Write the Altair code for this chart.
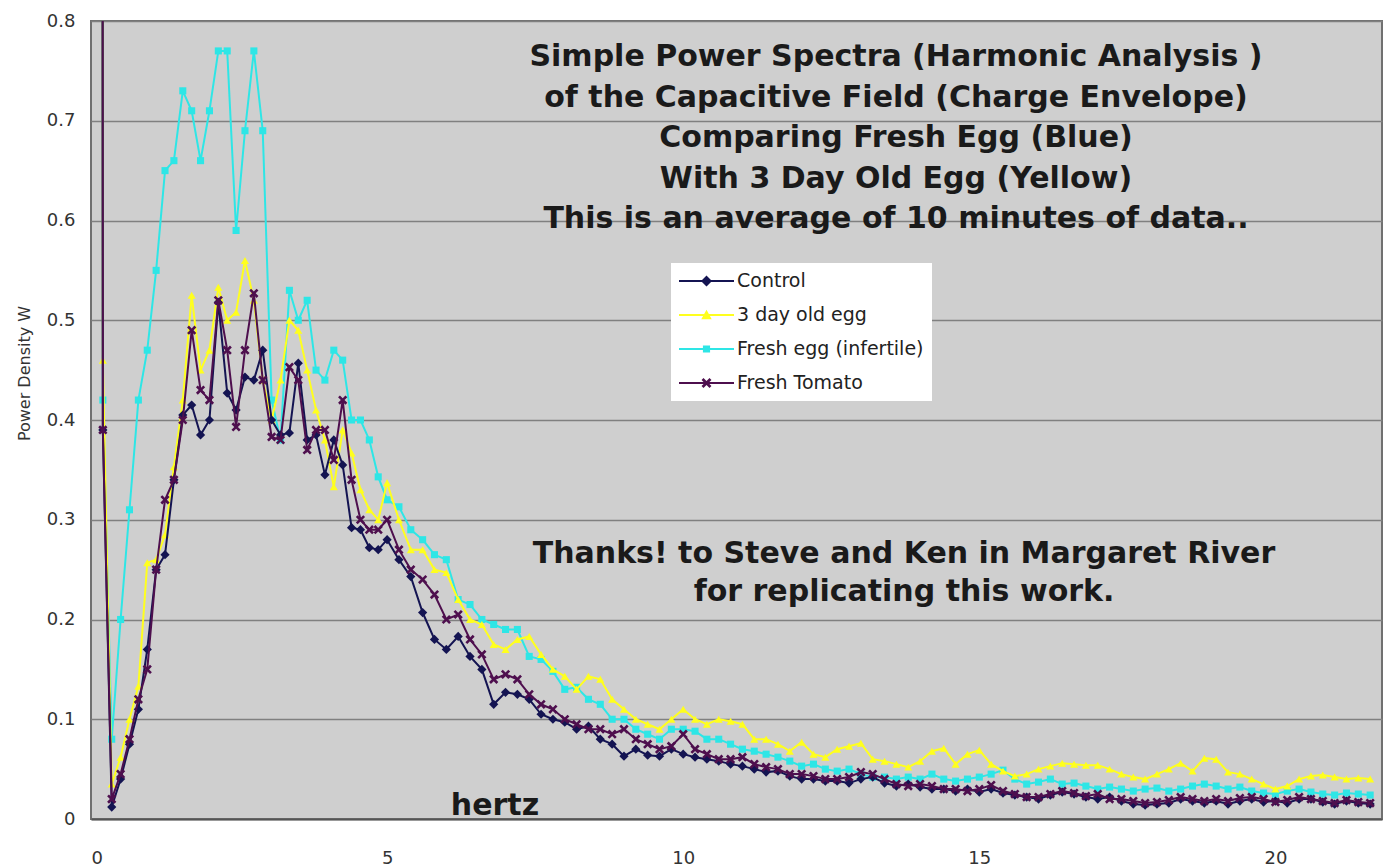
import altair as alt
import pandas as pd

# ---------------- data ----------------
FREQ_A = [0.1, 0.2, 0.35, 0.5, 0.65, 0.8, 0.95, 1.1, 1.25, 1.4, 1.55, 1.7, 1.85, 2.0,
          2.15, 2.3, 2.45, 2.6, 2.75, 2.9, 3.05, 3.2, 3.35, 3.5, 3.65, 3.8, 3.95, 4.1,
          4.25, 4.4, 4.55, 4.7, 4.85, 5.0]
FREQ_B = [5.2, 5.4, 5.6, 5.8, 6.0, 6.2, 6.4, 6.6, 6.8, 7.0, 7.2, 7.4, 7.6, 7.8, 8.0,
          8.2, 8.4, 8.6, 8.8, 9.0, 9.2, 9.4, 9.6, 9.8, 10.0, 10.2, 10.4, 10.6, 10.8,
          11.0, 11.2, 11.4, 11.6, 11.8, 12.0, 12.2, 12.4, 12.6, 12.8, 13.0, 13.2, 13.4,
          13.6, 13.8, 14.0, 14.2, 14.4, 14.6, 14.8, 15.0, 15.2, 15.4, 15.6, 15.8, 16.0,
          16.2, 16.4, 16.6, 16.8, 17.0, 17.2, 17.4, 17.6, 17.8, 18.0, 18.2, 18.4, 18.6,
          18.8, 19.0, 19.2, 19.4, 19.6, 19.8, 20.0, 20.2, 20.4, 20.6, 20.8, 21.0, 21.2,
          21.4, 21.6]

CONTROL_A = [12.0, 0.39, 0.012, 0.04, 0.075, 0.11, 0.17, 0.25, 0.265, 0.34, 0.405, 0.415,
             0.385, 0.40, 0.518, 0.427, 0.41, 0.443, 0.44, 0.47, 0.40, 0.385, 0.387, 0.457,
             0.38, 0.385, 0.345, 0.38, 0.355, 0.292, 0.29, 0.272, 0.27, 0.28]
CONTROL_B = [0.26, 0.243, 0.207, 0.18, 0.17, 0.183, 0.163, 0.15, 0.115, 0.127,
             0.125, 0.12, 0.105, 0.10, 0.097, 0.09, 0.093, 0.08, 0.075, 0.063,
             0.07, 0.064, 0.063, 0.07, 0.065, 0.062, 0.06, 0.058, 0.055, 0.053,
             0.05, 0.047, 0.048, 0.043, 0.04, 0.04, 0.038, 0.038, 0.036, 0.04,
             0.042, 0.036, 0.033, 0.035, 0.032, 0.03, 0.03, 0.028, 0.03, 0.027,
             0.03, 0.026, 0.024, 0.022, 0.02, 0.024, 0.027, 0.025, 0.022, 0.02,
             0.022, 0.018, 0.015, 0.014, 0.015, 0.016, 0.02, 0.018, 0.016, 0.018,
             0.015, 0.018, 0.02, 0.017, 0.018, 0.016, 0.02, 0.02, 0.017, 0.015,
             0.018, 0.016, 0.015]

OLD_EGG_A = [13.0, 0.46, 0.035, 0.062, 0.10, 0.133, 0.257, 0.26, 0.285, 0.353, 0.42, 0.525,
             0.45, 0.47, 0.533, 0.50, 0.508, 0.56, 0.52, 0.44, 0.40, 0.44, 0.50, 0.49,
             0.45, 0.41, 0.38, 0.333, 0.39, 0.367, 0.33, 0.31, 0.30, 0.337]
OLD_EGG_B = [0.30, 0.27, 0.27, 0.25, 0.247, 0.22, 0.20, 0.195, 0.175, 0.17,
             0.18, 0.183, 0.165, 0.15, 0.143, 0.13, 0.143, 0.14, 0.12, 0.11,
             0.10, 0.095, 0.09, 0.10, 0.11, 0.10, 0.095, 0.10, 0.098, 0.095,
             0.08, 0.08, 0.075, 0.068, 0.077, 0.065, 0.062, 0.07, 0.073, 0.076,
             0.06, 0.058, 0.055, 0.052, 0.058, 0.068, 0.071, 0.055, 0.065, 0.069,
             0.055, 0.048, 0.043, 0.045, 0.05, 0.053, 0.056, 0.055, 0.054, 0.054,
             0.05, 0.045, 0.042, 0.04, 0.045, 0.05, 0.056, 0.048, 0.061, 0.06,
             0.047, 0.045, 0.04, 0.035, 0.03, 0.033, 0.04, 0.043, 0.044, 0.042,
             0.04, 0.041, 0.04]

FRESH_EGG_A = [12.5, 0.42, 0.08, 0.20, 0.31, 0.42, 0.47, 0.55, 0.65, 0.66, 0.73, 0.71,
               0.66, 0.71, 0.77, 0.77, 0.59, 0.69, 0.77, 0.69, 0.42, 0.38, 0.53, 0.50,
               0.52, 0.45, 0.44, 0.47, 0.46, 0.40, 0.40, 0.38, 0.343, 0.32]
FRESH_EGG_B = [0.313, 0.29, 0.28, 0.265, 0.26, 0.22, 0.215, 0.20, 0.195, 0.19,
               0.19, 0.163, 0.16, 0.148, 0.13, 0.132, 0.12, 0.115, 0.10, 0.10,
               0.09, 0.085, 0.08, 0.09, 0.09, 0.088, 0.08, 0.08, 0.075, 0.07,
               0.068, 0.065, 0.062, 0.058, 0.053, 0.055, 0.05, 0.048, 0.05, 0.045,
               0.042, 0.042, 0.04, 0.042, 0.04, 0.045, 0.04, 0.038, 0.04, 0.042,
               0.045, 0.049, 0.04, 0.035, 0.037, 0.04, 0.035, 0.036, 0.033, 0.03,
               0.032, 0.03, 0.028, 0.03, 0.031, 0.028, 0.03, 0.033, 0.035, 0.033,
               0.03, 0.032, 0.028, 0.026, 0.025, 0.028, 0.03, 0.027, 0.025, 0.024,
               0.026, 0.025, 0.024]

TOMATO_A = [11.0, 0.39, 0.02, 0.045, 0.08, 0.12, 0.15, 0.25, 0.32, 0.34, 0.40, 0.49,
            0.43, 0.42, 0.52, 0.47, 0.393, 0.47, 0.527, 0.44, 0.383, 0.38, 0.453, 0.44,
            0.37, 0.39, 0.39, 0.36, 0.42, 0.34, 0.30, 0.29, 0.29, 0.30]
TOMATO_B = [0.27, 0.25, 0.24, 0.225, 0.20, 0.205, 0.18, 0.165, 0.14, 0.145,
            0.14, 0.125, 0.115, 0.11, 0.10, 0.095, 0.09, 0.09, 0.085, 0.09,
            0.08, 0.075, 0.07, 0.073, 0.085, 0.07, 0.065, 0.06, 0.06, 0.062,
            0.055, 0.052, 0.05, 0.045, 0.045, 0.043, 0.04, 0.04, 0.042, 0.047,
            0.045, 0.04, 0.035, 0.033, 0.035, 0.033, 0.03, 0.03, 0.028, 0.03,
            0.034, 0.028, 0.025, 0.022, 0.022, 0.025, 0.028, 0.026, 0.023, 0.025,
            0.02, 0.02, 0.018, 0.016, 0.017, 0.019, 0.022, 0.02, 0.018, 0.02,
            0.018, 0.021, 0.022, 0.02, 0.017, 0.019, 0.022, 0.02, 0.018, 0.016,
            0.019, 0.017, 0.016]

SERIES = ["Control", "3 day old egg", "Fresh egg (infertile)", "Fresh Tomato"]
COLORS = ["#141452", "#ffff1e", "#2ee6e6", "#4e0f4e"]

TITLE_LINES = ["Simple Power Spectra (Harmonic Analysis )",
               "of the Capacitive Field (Charge Envelope)",
               "Comparing Fresh Egg (Blue)",
               "With 3 Day Old Egg (Yellow)",
               "This is an average of 10 minutes of data.."]
THANKS_LINES = ["Thanks! to Steve and Ken in Margaret River",
                "for replicating this work."]

# ---------------- build table ----------------
FREQ = FREQ_A + FREQ_B
values = {
    "Control": CONTROL_A + CONTROL_B,
    "3 day old egg": OLD_EGG_A + OLD_EGG_B,
    "Fresh egg (infertile)": FRESH_EGG_A + FRESH_EGG_B,
    "Fresh Tomato": TOMATO_A + TOMATO_B,
}
rows = []
for name in SERIES:
    assert len(values[name]) == len(FREQ), (name, len(values[name]), len(FREQ))
    for f, v in zip(FREQ, values[name]):
        rows.append({"hz": f, "pd": v, "series": name})
df = pd.DataFrame(rows)

# marker shapes used in the plot
X_PATH = ("M-1,-0.6L-0.6,-1L0,-0.4L0.6,-1L1,-0.6L0.4,0L1,0.6L0.6,1L0,0.4"
          "L-0.6,1L-1,0.6L-0.4,0Z")
MARKERS = {"Control": ("diamond", 85), "3 day old egg": ("triangle-up", 65),
           "Fresh egg (infertile)": ("square", 50), "Fresh Tomato": (X_PATH, 85)}
COLOR_OF = dict(zip(SERIES, COLORS))

# legend symbols: short line sample with the marker in the middle
LINE = "M-1,-0.038H1V0.038H-1Z"
LEG_SHAPES = [
    LINE + "M0,-0.2L0.2,0L0,0.2L-0.2,0Z",
    LINE + "M0,-0.19L0.19,0.15L-0.19,0.15Z",
    LINE + "M-0.13,-0.13H0.13V0.13H-0.13Z",
    LINE + ("M-0.18,-0.11L-0.11,-0.18L0,-0.07L0.11,-0.18L0.18,-0.11L0.07,0"
            "L0.18,0.11L0.11,0.18L0,0.07L-0.11,0.18L-0.18,0.11L-0.07,0Z"),
]

xscale = alt.Scale(domain=[0, 21.8], nice=False, zero=False)
yscale = alt.Scale(domain=[0, 0.8], nice=False)

x_enc = alt.X("hz:Q", scale=xscale,
              axis=alt.Axis(values=[0, 5, 10, 15, 20], grid=False, ticks=False,
                            domain=True, domainColor="#555555", domainWidth=2,
                            labelFontSize=18, labelPadding=30, title=None,
                            labelFont="DejaVu Sans", labelColor="#333333"))
y_enc = alt.Y("pd:Q", scale=yscale,
              axis=alt.Axis(values=[0, 0.1, 0.2, 0.3, 0.4, 0.5, 0.6, 0.7, 0.8],
                            format="~g", grid=True, gridColor="#808080", gridWidth=1.5,
                            ticks=False, domain=False, labelFontSize=18,
                            labelFont="DejaVu Sans", labelColor="#333333",
                            labelPadding=16, title="Power Density W",
                            titleFontSize=16, titleFontWeight="normal",
                            titleFont="DejaVu Sans", titleColor="#333333",
                            titlePadding=14, titleY=352))

base = alt.Chart(df)
layers = []
for name in ["Fresh egg (infertile)", "3 day old egg", "Control", "Fresh Tomato"]:
    sub = base.transform_filter(alt.datum.series == name)
    shp, sz = MARKERS[name]
    layers.append(sub.mark_line(strokeWidth=2, clip=True, color=COLOR_OF[name]).encode(
        x=x_enc, y=y_enc, order="hz:Q"))
    layers.append(sub.mark_point(filled=True, opacity=1, clip=True, shape=shp, size=sz,
                                 color=COLOR_OF[name]).encode(x=x_enc, y=y_enc))

# legend-only layer (no rows survive the filter; scales carry the 4 series)
legend_layer = base.transform_filter(alt.datum.pd < -1).mark_point(
    filled=True, opacity=1).encode(
    x=x_enc, y=y_enc,
    color=alt.Color("series:N", scale=alt.Scale(domain=SERIES, range=COLORS),
                    legend=alt.Legend(title=None)),
    shape=alt.Shape("series:N", scale=alt.Scale(domain=SERIES, range=LEG_SHAPES),
                    legend=alt.Legend(title=None)),
)

title_df = pd.DataFrame({"t": ["\n".join(TITLE_LINES)]})
thanks_df = pd.DataFrame({"t": ["\n".join(THANKS_LINES)]})
hertz_df = pd.DataFrame({"t": ["hertz"]})

title_text = alt.Chart(title_df).mark_text(
    font="DejaVu Sans", fontWeight="bold", fontSize=30, lineBreak="\n",
    lineHeight=40.5, align="center", baseline="top", color="#1a1a1a"
).encode(text="t:N", x=alt.value(805), y=alt.value(21))
thanks_text = alt.Chart(thanks_df).mark_text(
    font="DejaVu Sans", fontWeight="bold", fontSize=30, lineBreak="\n",
    lineHeight=38, align="center", baseline="top", color="#1a1a1a"
).encode(text="t:N", x=alt.value(813), y=alt.value(518))
hertz_text = alt.Chart(hertz_df).mark_text(
    font="DejaVu Sans", fontWeight="bold", fontSize=30, align="center",
    baseline="middle", color="#1a1a1a"
).encode(text="t:N", x=alt.value(404), y=alt.value(785))

chart = alt.layer(*layers, legend_layer, title_text, thanks_text, hertz_text).properties(
    width=1291, height=798, background="white",
    padding={"left": 8, "top": 4, "right": 2, "bottom": 0}
).configure_view(
    fill="#cfcfcf", stroke="#707070", strokeWidth=2
).configure_legend(
    orient="none", legendX=580, legendY=242, fillColor="white", padding=8,
    labelFont="DejaVu Sans", labelFontSize=19, labelColor="#222222", labelLimit=400,
    symbolSize=3025, clipHeight=20, rowPadding=14, labelOffset=3,
    symbolStrokeWidth=0, symbolOpacity=1
)

chart.save("out.html", embed_options={"renderer": "svg", "actions": False})
